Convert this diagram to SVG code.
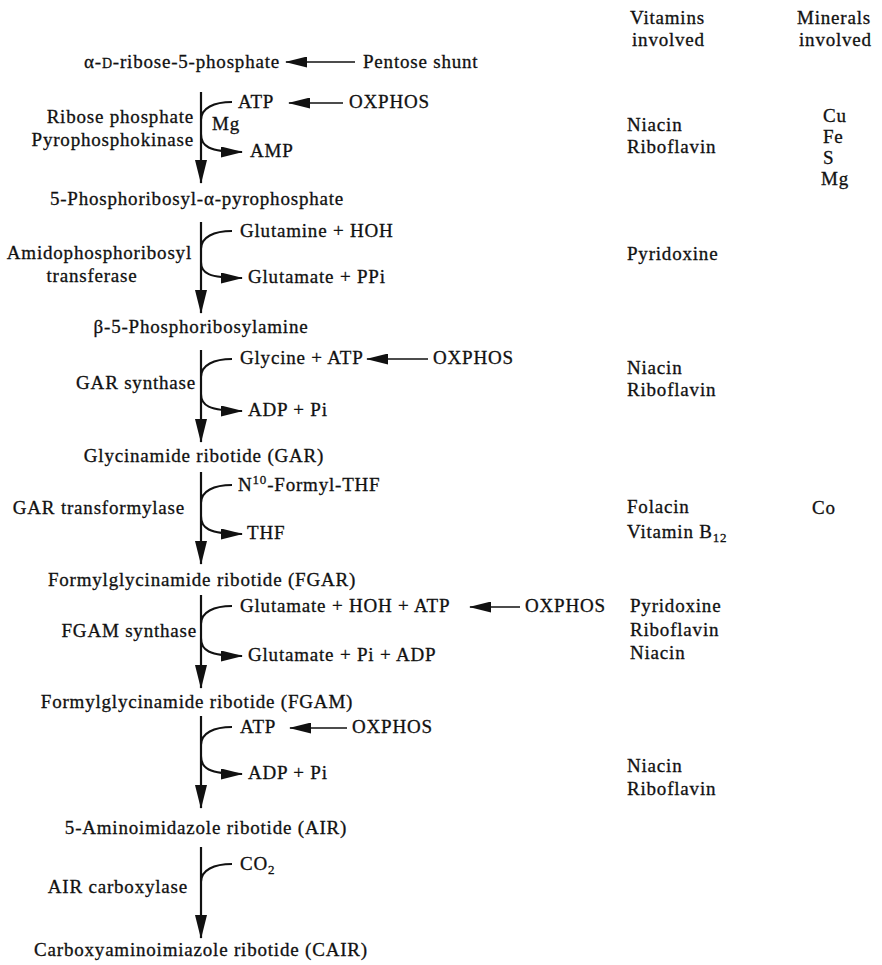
<svg xmlns="http://www.w3.org/2000/svg" width="882" height="965" viewBox="0 0 882 965">
<style>
text{font-family:"Liberation Serif","Times New Roman",serif;font-size:19px;fill:#111;stroke:#111;stroke-width:0.3px;letter-spacing:0.8px}
.m{text-anchor:middle}
.e{text-anchor:end}
.sm{font-size:13px}
.v{fill:none;stroke:#111;stroke-width:2.2}
.c{fill:none;stroke:#111;stroke-width:2}
.h{fill:none;stroke:#111;stroke-width:1.6}
</style>
<defs>
<marker id="av" markerUnits="userSpaceOnUse" viewBox="0 0 24 12" markerWidth="24" markerHeight="12" refX="23" refY="6" orient="auto"><path d="M0 0 L24 6 L0 12 z" fill="#111"/></marker>
<marker id="ah" markerUnits="userSpaceOnUse" viewBox="0 0 22 11" markerWidth="22" markerHeight="11" refX="21" refY="5.5" orient="auto"><path d="M0 0 L22 5.5 L0 11 z" fill="#111"/></marker>
</defs>
<rect width="882" height="965" fill="#fff"/>

<g id="header">
<text x="630" y="24">Vitamins</text>
<text x="632" y="46">involved</text>
<text x="797" y="24">Minerals</text>
<text x="799" y="46">involved</text>
</g>

<g id="ribose5p"><text class="m" x="182" y="68">α-<tspan font-size="14">D</tspan>-ribose-5-phosphate</text></g>
<g id="pentose"><text x="363" y="68">Pentose shunt</text></g>

<g id="step1">
<text class="e" x="194" y="123">Ribose phosphate</text>
<text class="e" x="194" y="146">Pyrophosphokinase</text>
<text x="212" y="130">Mg</text>
<text x="238" y="108">ATP</text>
<text x="349" y="108">OXPHOS</text>
<text x="250" y="157">AMP</text>
<text x="627" y="131">Niacin</text>
<text x="627" y="153">Riboflavin</text>
<text x="823" y="122">Cu</text>
<text x="823" y="143">Fe</text>
<text x="823" y="164">S</text>
<text x="821" y="185">Mg</text>
</g>

<g id="prpp"><text class="m" x="197" y="205">5-Phosphoribosyl-α-pyrophosphate</text></g>

<g id="step2">
<text class="e" x="192" y="259">Amidophosphoribosyl</text>
<text class="m" x="92" y="282">transferase</text>
<text x="240" y="237">Glutamine + HOH</text>
<text x="248" y="283">Glutamate + PPi</text>
<text x="627" y="260">Pyridoxine</text>
</g>

<g id="pra"><text class="m" x="201" y="333">β-5-Phosphoribosylamine</text></g>

<g id="step3">
<text class="e" x="196" y="389">GAR synthase</text>
<text x="240" y="364">Glycine + ATP</text>
<text x="433" y="364">OXPHOS</text>
<text x="248" y="416">ADP + Pi</text>
<text x="627" y="374">Niacin</text>
<text x="627" y="396">Riboflavin</text>
</g>

<g id="gar"><text class="m" x="204" y="462">Glycinamide ribotide (GAR)</text></g>

<g id="step4">
<text class="e" x="185" y="514">GAR transformylase</text>
<text x="238" y="491">N<tspan class="sm" dy="-7">10</tspan><tspan dy="7">-Formyl-THF</tspan></text>
<text x="247" y="539">THF</text>
<text x="627" y="513">Folacin</text>
<text x="627" y="538">Vitamin B<tspan class="sm" dy="4">12</tspan></text>
<text x="812" y="514">Co</text>
</g>

<g id="fgar"><text class="m" x="202" y="586">Formylglycinamide ribotide (FGAR)</text></g>

<g id="step5">
<text class="e" x="197" y="637">FGAM synthase</text>
<text x="240" y="612">Glutamate + HOH + ATP</text>
<text x="525" y="612">OXPHOS</text>
<text x="248" y="661">Glutamate + Pi + ADP</text>
<text x="630" y="612">Pyridoxine</text>
<text x="630" y="636">Riboflavin</text>
<text x="630" y="659">Niacin</text>
</g>

<g id="fgam"><text class="m" x="197" y="708">Formylglycinamide ribotide (FGAM)</text></g>

<g id="step6">
<text x="240" y="733">ATP</text>
<text x="352" y="733">OXPHOS</text>
<text x="248" y="779">ADP + Pi</text>
<text x="627" y="772">Niacin</text>
<text x="627" y="795">Riboflavin</text>
</g>

<g id="air"><text class="m" x="206" y="834">5-Aminoimidazole ribotide (AIR)</text></g>

<g id="step7">
<text class="e" x="188" y="893">AIR carboxylase</text>
<text x="240" y="870">CO<tspan class="sm" dy="4">2</tspan></text>
</g>

<g id="cair"><text class="m" x="201" y="956">Carboxyaminoimiazole ribotide (CAIR)</text></g>

<g id="connectors">
<path class="h" d="M355 62 H286" marker-end="url(#ah)"/>
<path class="v" d="M201 92 V183" marker-end="url(#av)"/>
<path class="c" d="M232 102 C214 102 201 108 201 120"/>
<path class="c" d="M201 134 C201 146 208 152 242 152" marker-end="url(#ah)"/>
<path class="h" d="M343 103 H289" marker-end="url(#ah)"/>

<path class="v" d="M201 222 V313" marker-end="url(#av)"/>
<path class="c" d="M232 231 C214 231 201 237 201 249"/>
<path class="c" d="M201 262 C201 273 208 278 242 278" marker-end="url(#ah)"/>

<path class="v" d="M201 350 V442" marker-end="url(#av)"/>
<path class="c" d="M232 359 C214 359 201 365 201 377"/>
<path class="c" d="M201 394 C201 405 208 411 242 411" marker-end="url(#ah)"/>
<path class="h" d="M428 359 H367" marker-end="url(#ah)"/>

<path class="v" d="M201 472 V564" marker-end="url(#av)"/>
<path class="c" d="M232 485 C214 485 201 491 201 503"/>
<path class="c" d="M201 516 C201 528 208 534 242 534" marker-end="url(#ah)"/>

<path class="v" d="M201 595 V688" marker-end="url(#av)"/>
<path class="c" d="M232 606 C214 606 201 612 201 624"/>
<path class="c" d="M201 638 C201 650 208 656 242 656" marker-end="url(#ah)"/>
<path class="h" d="M520 607 H470" marker-end="url(#ah)"/>

<path class="v" d="M201 716 V808" marker-end="url(#av)"/>
<path class="c" d="M232 727 C214 727 201 733 201 745"/>
<path class="c" d="M201 756 C201 768 208 774 242 774" marker-end="url(#ah)"/>
<path class="h" d="M347 728 H290" marker-end="url(#ah)"/>

<path class="v" d="M201 847 V938" marker-end="url(#av)"/>
<path class="c" d="M232 864 C214 864 201 870 201 882"/>
</g>
</svg>
